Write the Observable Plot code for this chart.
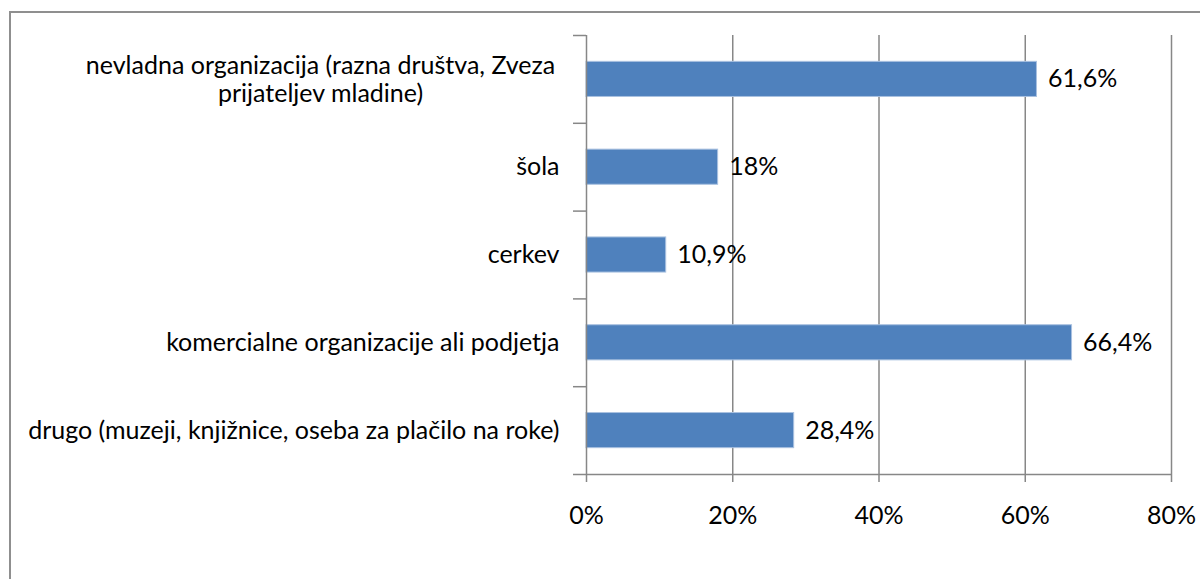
<!DOCTYPE html>
<html><head><meta charset="utf-8">
<script src="https://cdn.jsdelivr.net/npm/d3@7"></script>
<script src="https://cdn.jsdelivr.net/npm/@observablehq/plot@0.6"></script>
<style>
body{margin:0;background:#fff;overflow:hidden;}
#frame{position:absolute;left:9px;top:11px;width:1300px;height:700px;border-left:2px solid #8f8f8f;border-top:2px solid #8f8f8f;}
#chart{position:absolute;left:0;top:0;}
</style></head><body>
<div id="frame"></div><div id="chart"></div>
<script>
const categories = [
  "nevladna organizacija (razna društva, Zveza\nprijateljev mladine)",
  "šola",
  "cerkev",
  "komercialne organizacije ali podjetja",
  "drugo (muzeji, knjižnice, oseba za plačilo na roke)"
];
const values = [61.6, 18, 10.9, 66.4, 28.4];
const xTicks = [0, 20, 40, 60, 80];
const bandEdges = [0, 1, 2, 3, 4, 5];

const data = categories.map((c, i) => ({c, v: values[i], i}));
const fmt = v => String(v).replace(".", ",") + "%";
const gray = "#878787";
const font = "Lato, 'Open Sans', sans-serif";
const fs = 25;

const chart = Plot.plot({
  width: 1200, height: 579,
  marginLeft: 586, marginRight: 29, marginTop: 35, marginBottom: 105,
  style: {fontFamily: font, fontSize: fs + "px", color: "#000", background: "transparent"},
  x: {domain: [0, 80], label: null},
  y: {domain: [0, 5], reverse: true, label: null},
  marks: [
    Plot.ruleX(xTicks.slice(1), {stroke: gray, strokeWidth: 1.5}),
    Plot.rect(data, {x1: 0, x2: "v", y1: d => d.i + 0.3, y2: d => d.i + 0.7, fill: "#4F81BD", stroke: "#a9c1e0", strokeWidth: 1}),
    Plot.ruleX([0], {stroke: gray, strokeWidth: 1.5}),
    Plot.ruleY([5], {stroke: gray, strokeWidth: 1.5}),
    Plot.axisY({ticks: bandEdges, tickSize: 13, tickFormat: () => "", label: null, stroke: gray, strokeWidth: 1.5}),
    Plot.axisY({ticks: data.map(d => d.i + 0.5), tickSize: 0, tickPadding: 27, label: null,
      tickFormat: t => { const i = Math.floor(t); return i === 0 ? "" : categories[i]; },
      fill: "#000", fontSize: fs}),
    Plot.text([data[0]], {x: 0, y: d => d.i + 0.5, text: d => d.c, textAnchor: "middle", dx: -266, lineHeight: 1.12, fontSize: fs, fill: "#000"}),
    Plot.axisX({ticks: xTicks, tickSize: 8, tickPadding: 24, label: null, tickFormat: d => d + "%", stroke: gray, strokeWidth: 1.5, fill: "#000", fontSize: fs}),
    Plot.text(data, {x: "v", y: d => d.i + 0.5, text: d => fmt(d.v), textAnchor: "start", dx: 11, fontSize: fs, fill: "#000"})
  ]
});
document.getElementById("chart").appendChild(chart);
</script>
</body></html>
